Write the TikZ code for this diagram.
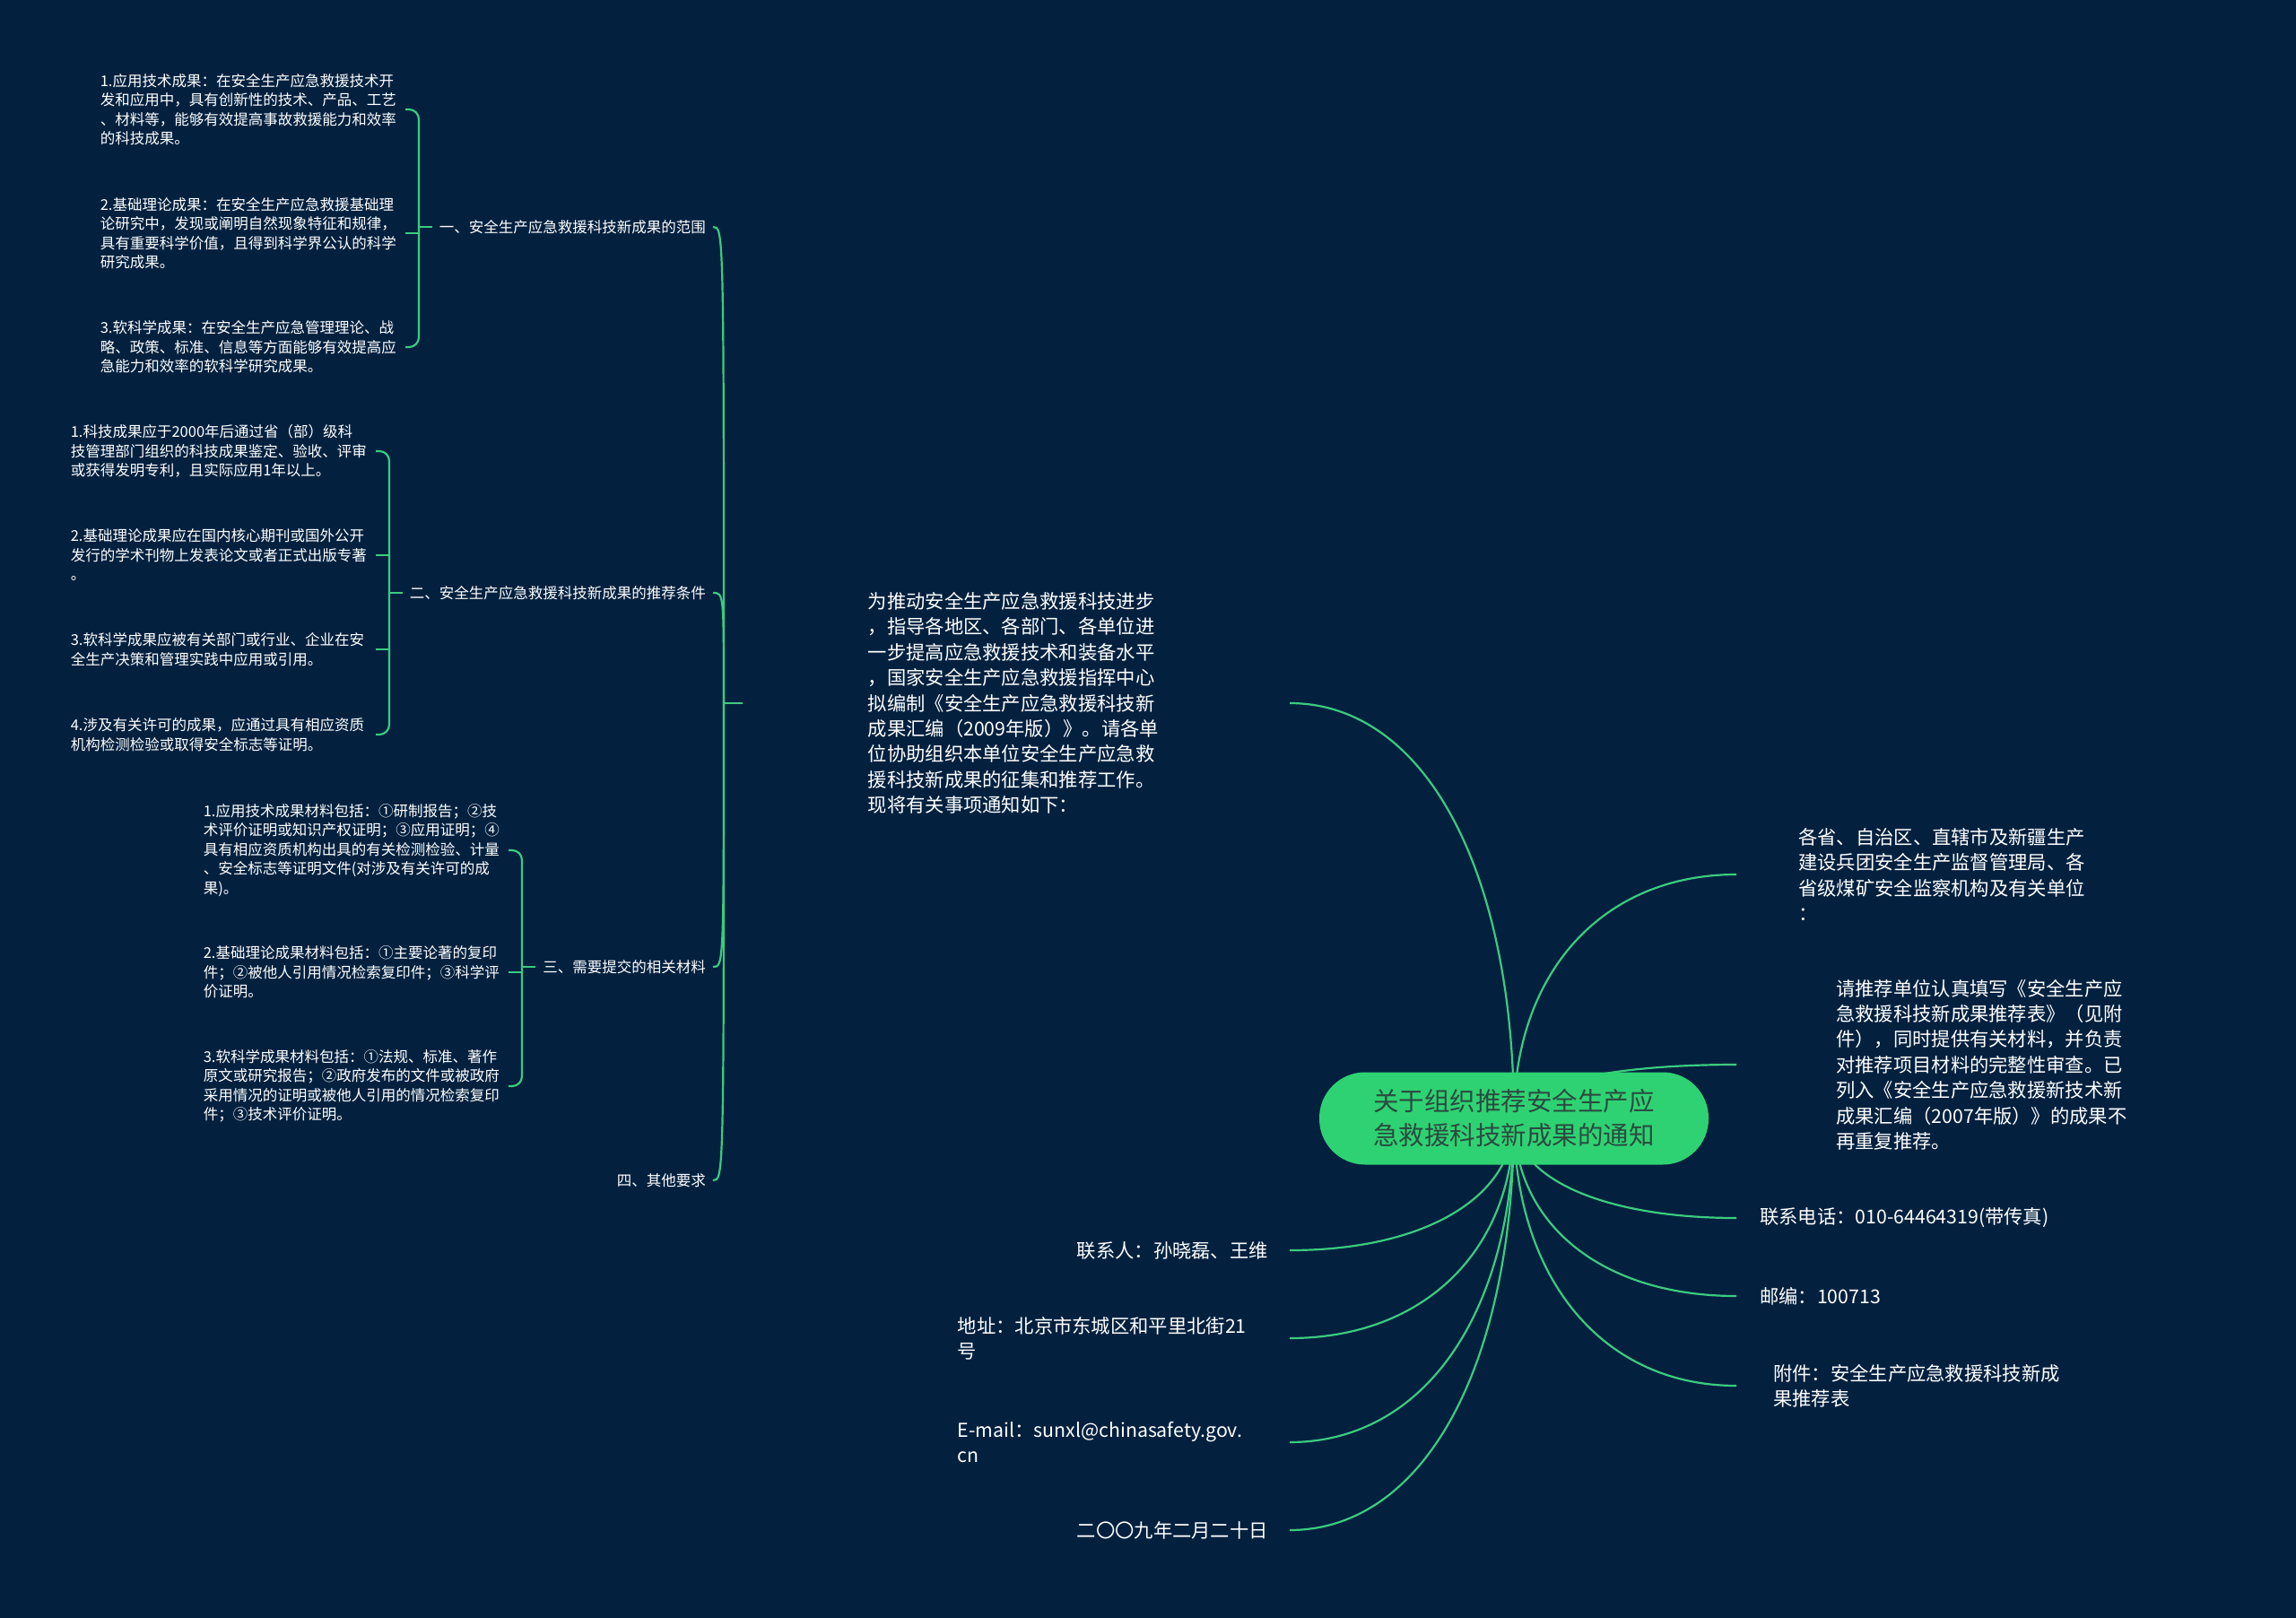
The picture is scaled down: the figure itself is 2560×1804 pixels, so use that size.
\documentclass[tikz,border=0pt]{standalone}
\usepackage{fontspec}
\setmainfont{Noto Sans CJK SC}
\usepackage{tikz}
\usetikzlibrary{calc}
\definecolor{bgnavy}{HTML}{03213F}
\definecolor{linkgreen}{HTML}{3CCB7F}
\definecolor{rootgreen}{HTML}{2FD272}
\definecolor{roottext}{HTML}{2B4A40}
\pgfdeclarelayer{bg}
\pgfdeclarelayer{edges}
\pgfsetlayers{bg,edges,main}
\newcommand\rootlink[1]{\draw[link] (root.center) .. controls ($(root.center)!0.6!(root.center |- #1)$) and ($(#1)!0.6!(root.center |- #1)$) .. (#1);}

\begin{document}
\begin{tikzpicture}[x=1pt, y=-1pt,
  rootnode/.style={rectangle, fill=rootgreen, rounded corners=51pt,
    minimum width=434pt, minimum height=103pt, align=center,
    text=roottext, font=\fontsize{28.5}{38}\selectfont},
  topic/.style={text=white, align=left, inner ysep=0pt,
    font=\fontsize{21.3}{28.4}\selectfont},
  sect/.style={text=white, inner xsep=8pt, inner ysep=0pt,
    font=\fontsize{16.5}{21.5}\selectfont},
  leaf/.style={text=white, align=left, text width=332pt, inner xsep=8pt,
    inner ysep=0pt, anchor=east, font=\fontsize{16.5}{21.5}\selectfont},
  link/.style={draw=linkgreen, line width=2.2pt},
  brace/.style={link, rounded corners=11pt}
]
  \begin{pgfonlayer}{bg}
    \fill[bgnavy] (0,0) rectangle (2560,1804);
  \end{pgfonlayer}

  % Root
  \node[rootnode] (root) at (1688,1247) {关于组织推荐安全生产应\\急救援科技新成果的通知};

  % Topics round the root
  \node[topic, text width=330pt, inner xsep=140pt, anchor=east] (intro) at (1438,784)
    {为推动安全生产应急救援科技进步\\，指导各地区、各部门、各单位进\\一步提高应急救援技术和装备水平\\，国家安全生产应急救援指挥中心\\拟编制《安全生产应急救援科技新\\成果汇编（2009年版）》。请各单\\位协助组织本单位安全生产应急救\\援科技新成果的征集和推荐工作。\\现将有关事项通知如下：};
  \node[topic, inner xsep=69pt, anchor=west] (prov) at (1936,975)
    {各省、自治区、直辖市及新疆生产\\建设兵团安全生产监督管理局、各\\省级煤矿安全监察机构及有关单位\\：};
  \node[topic, inner xsep=111pt, anchor=west] (req) at (1936,1187)
    {请推荐单位认真填写《安全生产应\\急救援科技新成果推荐表》（见附\\件），同时提供有关材料，并负责\\对推荐项目材料的完整性审查。已\\列入《安全生产应急救援新技术新\\成果汇编（2007年版）》的成果不\\再重复推荐。};
  \node[topic, inner xsep=26pt, anchor=west] (tel) at (1936,1358) {联系电话：010-64464319(带传真)};
  \node[topic, inner xsep=26pt, anchor=west] (post) at (1936,1445) {邮编：100713};
  \node[topic, inner xsep=41pt, anchor=west] (att) at (1936,1545) {附件：安全生产应急救援科技新成\\果推荐表};
  \node[topic, inner xsep=24pt, anchor=east] (contact) at (1438,1394) {联系人：孙晓磊、王维};
  \node[topic, text width=323pt, inner xsep=47pt, anchor=east] (addr) at (1438,1492) {地址：北京市东城区和平里北街21\\号};
  \node[topic, text width=323pt, inner xsep=47pt, anchor=east] (email) at (1438,1608) {E-mail：sunxl@chinasafety.gov.\\cn};
  \node[topic, inner xsep=24pt, anchor=east] (date) at (1438,1706) {二〇〇九年二月二十日};

  % Sections
  \node[sect, anchor=east] (s1) at (795,253)  {一、安全生产应急救援科技新成果的范围};
  \node[sect, anchor=east] (s2) at (795,661)  {二、安全生产应急救援科技新成果的推荐条件};
  \node[sect, anchor=east] (s3) at (795,1078) {三、需要提交的相关材料};
  \node[sect, anchor=east] (s4) at (795,1316) {四、其他要求};

  % Section items
  \node[leaf] (a1) at (452,122) {1.应用技术成果：在安全生产应急救援技术开\\发和应用中，具有创新性的技术、产品、工艺\\、材料等，能够有效提高事故救援能力和效率\\的科技成果。};
  \node[leaf] (a2) at (452,260) {2.基础理论成果：在安全生产应急救援基础理\\论研究中，发现或阐明自然现象特征和规律，\\具有重要科学价值，且得到科学界公认的科学\\研究成果。};
  \node[leaf] (a3) at (452,387) {3.软科学成果：在安全生产应急管理理论、战\\略、政策、标准、信息等方面能够有效提高应\\急能力和效率的软科学研究成果。};

  \node[leaf] (b1) at (419,503) {1.科技成果应于2000年后通过省（部）级科\\技管理部门组织的科技成果鉴定、验收、评审\\或获得发明专利，且实际应用1年以上。};
  \node[leaf] (b2) at (419,619) {2.基础理论成果应在国内核心期刊或国外公开\\发行的学术刊物上发表论文或者正式出版专著\\。};
  \node[leaf] (b3) at (419,724) {3.软科学成果应被有关部门或行业、企业在安\\全生产决策和管理实践中应用或引用。};
  \node[leaf] (b4) at (419,819) {4.涉及有关许可的成果，应通过具有相应资质\\机构检测检验或取得安全标志等证明。};

  \node[leaf] (c1) at (567,948)  {1.应用技术成果材料包括：①研制报告；②技\\术评价证明或知识产权证明；③应用证明；④\\具有相应资质机构出具的有关检测检验、计量\\、安全标志等证明文件(对涉及有关许可的成\\果)。};
  \node[leaf] (c2) at (567,1084) {2.基础理论成果材料包括：①主要论著的复印\\件；②被他人引用情况检索复印件；③科学评\\价证明。};
  \node[leaf] (c3) at (567,1211) {3.软科学成果材料包括：①法规、标准、著作\\原文或研究报告；②政府发布的文件或被政府\\采用情况的证明或被他人引用的情况检索复印\\件；③技术评价证明。};

  % Branch points
  \coordinate (j0) at (807,784);
  \coordinate (j1) at (467,253);
  \coordinate (j2) at (434,661);
  \coordinate (j3) at (582,1078);

  % Links from the root
  \begin{pgfonlayer}{edges}
    \rootlink{intro.east}
    \rootlink{prov.west}
    \rootlink{req.west}
    \rootlink{tel.west}
    \rootlink{post.west}
    \rootlink{att.west}
    \rootlink{contact.east}
    \rootlink{addr.east}
    \rootlink{email.east}
    \rootlink{date.east}
  \end{pgfonlayer}

  % Brace of the intro
  \draw[link] (intro.west) -- (j0);
  \foreach \s in {s1,s2,s3,s4}
    \draw[link] (j0) .. controls (j0 |- \s.east) .. (\s.east);

  % Braces of the sections
  \draw[link] (s1.west) -- (j1);
  \draw[brace] (a1.east) -| (j1) |- (a3.east);
  \draw[link] (a2.east) -- (j1 |- a2.east);

  \draw[link] (s2.west) -- (j2);
  \draw[brace] (b1.east) -| (j2) |- (b4.east);
  \draw[link] (b2.east) -- (j2 |- b2.east);
  \draw[link] (b3.east) -- (j2 |- b3.east);

  \draw[link] (s3.west) -- (j3);
  \draw[brace] (c1.east) -| (j3) |- (c3.east);
  \draw[link] (c2.east) -- (j3 |- c2.east);
\end{tikzpicture}
\end{document}
